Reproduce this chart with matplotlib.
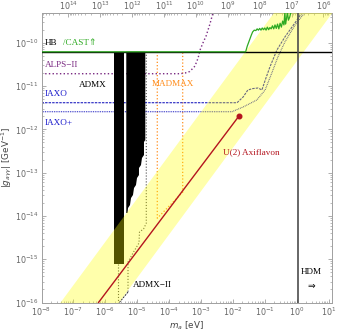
import matplotlib
matplotlib.use("Agg")
import matplotlib.pyplot as plt
import numpy as np
from matplotlib.ticker import FixedLocator, NullFormatter

# all values are log10 (m_a in eV, g_agg in GeV^-1)
hb_logg = -10.21

cast_logm = [-8.0, -1.60, -1.55, -1.48, -1.42, -1.38, -1.33, -1.28, -1.24, -1.20, -1.16,
             -1.12, -1.08, -1.04, -1.00, -0.96, -0.92, -0.88, -0.84, -0.80, -0.76, -0.72,
             -0.68, -0.64, -0.60, -0.56, -0.52, -0.48, -0.44, -0.40, -0.37, -0.35, -0.32,
             -0.29, -0.26, -0.22, -0.18, -0.15]
cast_logg = [-10.21, -10.21, -10.08, -9.94, -9.82, -9.75, -9.71, -9.72, -9.68, -9.71, -9.67,
             -9.71, -9.66, -9.70, -9.66, -9.71, -9.64, -9.70, -9.65, -9.68, -9.61, -9.68,
             -9.59, -9.67, -9.57, -9.68, -9.55, -9.64, -9.50, -9.59, -9.29, -9.57, -9.45,
             -9.29, -9.48, -9.41, -9.29, -9.24]

alps_logm = [-8.0, -3.66, -3.50, -3.35, -3.19, -3.09, -3.03, -2.94, -2.84, -2.72, -2.62]
alps_logg = [-10.716, -10.716, -10.70, -10.665, -10.54, -10.353, -10.169, -10.007, -9.845, -9.568, -9.30]

iaxo_logm = [-8.0, -1.87, -1.68, -1.53, -1.38, -1.21, -1.09, -0.98, -0.84, -0.62, -0.37, 0.01, 0.17]
iaxo_logg = [-11.386, -11.386, -11.254, -11.092, -11.06, -11.046, -11.092, -10.85, -10.561,
             -10.169, -9.868, -9.476, -9.30]

iaxop_logm = [-8.0, -2.03, -1.68, -1.25, -0.99, -0.78, -0.59, -0.37, -0.05, 0.26]
iaxop_logg = [-11.594, -11.594, -11.485, -11.323, -11.092, -10.70, -10.33, -9.984, -9.59, -9.30]

admx1_logm = [-5.718, -5.414]
admx1_logg = [-15.1, -10.21]

admx2_logm = [-5.342, -4.746, -4.746, -4.787, -4.787, -4.850, -4.881, -4.944, -4.944, -5.006,
              -5.038, -5.100, -5.132, -5.194, -5.226, -5.288, -5.304, -5.342]
admx2_logg = [-10.21, -10.21, -12.247, -12.293, -12.594, -12.663, -12.825, -12.894, -13.056,
              -13.125, -13.287, -13.356, -13.517, -13.587, -13.748, -13.818, -13.933, -13.933]

admxII_left_logm = [-5.593, -5.593]
admxII_left_logg = [-10.21, -16.0]
admxII_right_logm = [-4.715, -4.715, -4.80, -4.928, -4.944, -5.132, -5.288, -5.288]
admxII_right_logg = [-10.21, -14.168, -14.30, -14.372, -14.626, -14.857, -15.065, -15.757]
admxII_tail_logm = [-5.288, -5.56]
admxII_tail_logg = [-15.757, -16.0]

madmax_logm = [-4.37, -4.37, -3.574, -3.574]
madmax_logg = [-10.21, -14.053, -13.453, -10.21]

axf_logm = [-6.213, -1.809]
axf_logg = [-16.0, -11.693]

band_logk = [-10.43, -8.6]   # g = k * m_a
band_logm = [-8.0, 1.2]

hdm_logm = 0.05
fa_const = 10**6.84          # f_a [GeV] = const / m_a[eV]

m_ticks = [10.0**e for e in range(-8, 2)]
g_ticks = [10.0**e for e in range(-16, -9)]
fa_ticks = [10.0**e for e in range(6, 15)]

xlim = (1e-8, 10**1.107)
ylim = (1e-16, 10**-9.314)

P = lambda a: 10**np.asarray(a, dtype=float)

fig = plt.figure(figsize=(3.4, 3.32), dpi=100)
ax = fig.add_axes([41.5/340, 1-302.5/332, (332-41.5)/340, (302.5-13)/332])
ax.set_xscale('log')
ax.set_yscale('log')

serif = ['Liberation Serif', 'DejaVu Sans']
fs = 6.6

# projected sensitivities (under the band)
ax.plot(P(admxII_left_logm), P(admxII_left_logg), ':', color='0.3', lw=0.8, zorder=2)
ax.plot(P(admxII_right_logm), P(admxII_right_logg), ':', color='0.3', lw=0.8, zorder=2)
ax.plot(P(admxII_tail_logm), P(admxII_tail_logg), '--', color='0.2', lw=0.7, dashes=(2, 1), zorder=2)
ax.plot(P(madmax_logm), P(madmax_logg), ':', color='#ff8c1a', lw=0.9, zorder=2)
ax.plot(P(alps_logm), P(alps_logg), ':', color='#7a2a82', lw=1.0, zorder=2)
ax.plot(P(iaxo_logm), P(iaxo_logg), color='#2020c0', lw=0.8, dashes=(2.2, 1), zorder=2)
ax.plot(P(iaxop_logm), P(iaxop_logg), color='#2020c0', lw=0.8, dashes=(0.8, 0.8), zorder=2)

# ADMX exclusions
ax.fill_between(P(admx1_logm), P([admx1_logg[0]]*2), P([admx1_logg[1]]*2),
                color='black', lw=0, zorder=3)
ax.fill(P(admx2_logm), P(admx2_logg), color='black', lw=0, zorder=3)

# QCD axion band
mb = P(np.linspace(band_logm[0], band_logm[1], 2))
ax.fill_between(mb, mb*10**band_logk[0], mb*10**band_logk[1], color='yellow',
                alpha=0.33, lw=0, zorder=4)

# bounds on top
ax.axhline(10**hb_logg, color='black', lw=1.0, zorder=5)
ax.plot(P(cast_logm), P(cast_logg), color='#2eaa22', lw=0.9, zorder=6)
ax.axvline(10**hdm_logm, color='0.3', lw=1.2, zorder=5)
ax.plot(P(axf_logm), P(axf_logg), color='#b4141e', lw=1.0, zorder=6)
ax.plot(P(axf_logm[1:]), P(axf_logg[1:]), 'o', color='#b4141e', ms=3.3, zorder=7)

# labels
ax.text(1.3e-8, 1.0e-10, 'HB', color='black', fontsize=fs, family=serif, va='center', zorder=8)
ax.text(4.7e-8, 1.0e-10, '/CAST\u21d1', color='#2eaa22', fontsize=fs, family=serif, va='center', zorder=8)
ax.text(1.3e-8, 3.05e-11, 'ALPS\u2212II', color='#7a2a82', fontsize=fs, family=serif, va='center', zorder=8)
ax.text(1.5e-7, 1.05e-11, 'ADMX', color='black', fontsize=fs, family=serif, va='center', zorder=8)
ax.text(2.9e-5, 1.1e-11, 'MADMAX', color='#ff8c1a', fontsize=fs, family=serif, va='center', zorder=8)
ax.text(1.3e-8, 6.5e-12, 'IAXO', color='#1a1acc', fontsize=fs, family=serif, va='center', zorder=8)
ax.text(1.3e-8, 1.4e-12, 'IAXO+', color='#1a1acc', fontsize=fs, family=serif, va='center', zorder=8)
ax.text(4.9e-3, 3.0e-13, 'U(2) Axiflavon', color='#b4141e', fontsize=fs, family=serif, va='center', zorder=8)
ax.text(7.4e-6, 2.5e-16, 'ADMX\u2212II', color='black', fontsize=fs, family=serif, va='center', zorder=8)
ax.text(2.8, 5.0e-16, 'HDM', color='black', fontsize=fs, family=serif, va='center', ha='center', zorder=8)
ax.text(2.8, 2.3e-16, '\u21d2', color='black', fontsize=fs, family=serif, va='center', ha='center', zorder=8)

ax.set_xlim(*xlim)
ax.set_ylim(*ylim)

tick_col = '#666666'
frame_col = '#a0a0a0'
tfs = 5.8


def minor_list(lo, hi, fn=lambda v: v):
    out = []
    for e in range(-20, 20):
        for s in range(2, 10):
            v = s*10.0**e
            if lo <= fn(v) <= hi:
                out.append(v)
    return out


ax.xaxis.set_major_locator(FixedLocator(m_ticks))
ax.yaxis.set_major_locator(FixedLocator(g_ticks))
ax.xaxis.set_minor_locator(FixedLocator(minor_list(*xlim)))
ax.yaxis.set_minor_locator(FixedLocator(minor_list(*ylim)))
ax.xaxis.set_minor_formatter(NullFormatter())
ax.yaxis.set_minor_formatter(NullFormatter())
ax.tick_params(which='both', direction='in', color=frame_col, labelcolor=tick_col,
               labelsize=tfs, top=False, right=True, pad=2)
ax.tick_params(which='major', length=3, width=0.6)
ax.tick_params(which='minor', length=1.6, width=0.5)
for s in ax.spines.values():
    s.set_color(frame_col)
    s.set_linewidth(0.7)

sec = ax.secondary_xaxis('top', functions=(lambda m: fa_const/np.maximum(m, 1e-300),
                                           lambda f: fa_const/np.maximum(f, 1e-300)))
sec.xaxis.set_major_locator(FixedLocator(fa_ticks))
sec.xaxis.set_minor_locator(FixedLocator(minor_list(*xlim, fn=lambda f: fa_const/f)))
sec.xaxis.set_minor_formatter(NullFormatter())
sec.tick_params(which='both', direction='in', color=frame_col, labelcolor=tick_col,
                labelsize=tfs, pad=1)
sec.tick_params(which='major', length=3, width=0.6)
sec.tick_params(which='minor', length=1.6, width=0.5)
sec.spines['top'].set_color(frame_col)
sec.spines['top'].set_linewidth(0.7)

ax.set_xlabel('$m_a$ [eV]', fontsize=6.3, color='#444444', labelpad=1)
ax.set_ylabel('$|g_{a\\gamma\\gamma}|$ [GeV$^{-1}$]', fontsize=6.3, color='#444444', labelpad=1)

fig.savefig('out.png', dpi=100)
